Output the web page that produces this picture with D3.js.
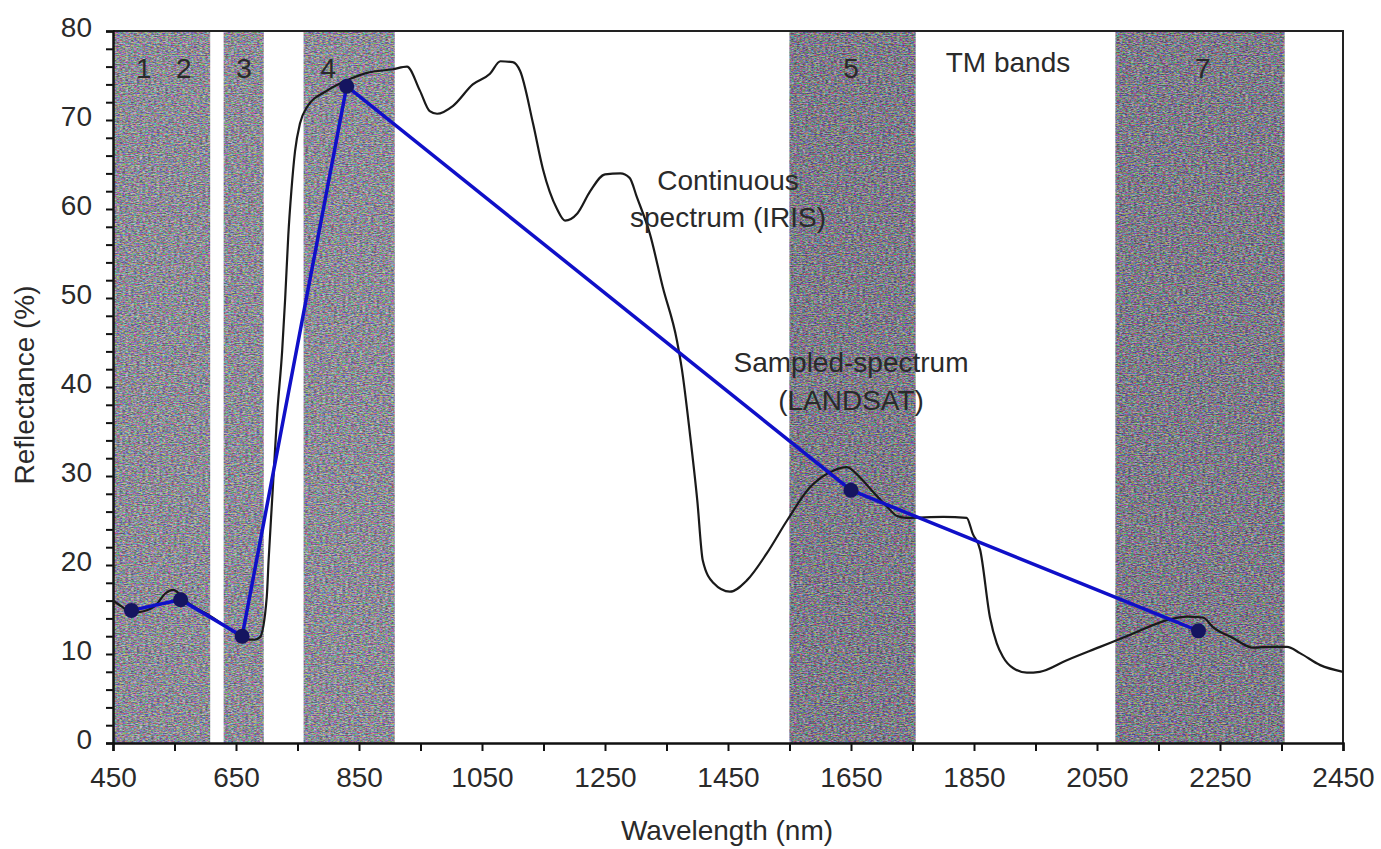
<!DOCTYPE html>
<html>
<head>
<meta charset="utf-8">
<script src="https://cdn.jsdelivr.net/npm/d3@7"></script>
<style>
  html, body { margin: 0; padding: 0; background: #fff; }
  svg { display: block; }
  text { font-family: "Liberation Sans", Arial, sans-serif; fill: #2a2a2a; }
</style>
</head>
<body>
<svg id="chart" width="1381" height="849"></svg>
<script>
// ---------- data ----------
const xTicks = [450, 650, 850, 1050, 1250, 1450, 1650, 1850, 2050, 2250, 2450];
const yTicks = [0, 10, 20, 30, 40, 50, 60, 70, 80];

// TM bands (nm)
const bandNames = ["1", "2", "3", "4", "5", "7"];
const bandStart = [450, 520, 630, 760, 1550, 2080];
const bandEnd   = [520, 608, 695, 908, 1755, 2355];
const bandLabelX = [500, 565, 663, 800, 1650, 2222];

// Continuous spectrum (IRIS)
const contWavelength = [450, 465, 480, 500, 520, 535, 548, 560, 575, 600, 625, 650, 665, 680, 689,
  700, 703, 709, 717, 725, 730, 735, 740, 746, 754, 765, 798, 835, 863, 905, 928, 949, 965, 977,
  1003, 1035, 1063, 1080, 1100, 1112, 1133, 1149, 1172, 1185, 1205, 1226, 1250, 1275, 1290,
  1302, 1323, 1344, 1367, 1375, 1388, 1400, 1409, 1426, 1453, 1481, 1513, 1546, 1583, 1621,
  1643, 1665, 1686, 1708, 1725, 1740, 1800, 1838, 1848, 1860, 1876, 1887, 1897, 1914, 1936,
  1957, 2001, 2055, 2109, 2164, 2196, 2222, 2239, 2271, 2304, 2326, 2359, 2380, 2413, 2450];
const contReflectance = [16.0, 15.3, 14.6, 14.8, 15.5, 16.8, 17.2, 16.6, 15.6, 14.6, 13.5, 12.3, 11.7, 11.6, 11.9,
  16.4, 20.5, 27.6, 37.0, 44.0, 50.0, 57.0, 62.0, 66.5, 69.6, 71.4, 73.3, 74.6, 75.3, 75.7, 76.0, 73.3, 71.0, 70.7,
  71.6, 74.0, 75.2, 76.6, 76.5, 75.5, 69.6, 64.5, 60.0, 58.7, 59.5, 62.0, 63.9, 64.0, 63.5,
  61.3, 57.2, 51.2, 45.2, 42.0, 34.8, 27.3, 20.5, 18.0, 17.0, 18.3, 21.3, 25.0, 28.7, 30.6,
  31.0, 29.8, 28.2, 26.6, 25.5, 25.3, 25.4, 25.3, 23.5, 21.7, 14.1, 11.2, 9.7, 8.4, 7.9,
  8.0, 9.3, 10.8, 12.3, 13.8, 14.2, 14.1, 13.0, 11.8, 10.7, 10.8, 10.8, 10.1, 8.75, 8.0];

// Sampled spectrum (LANDSAT)
const sampWavelength  = [480, 560, 660, 830, 1650, 2215];
const sampReflectance = [14.9, 16.1, 12.0, 73.8, 28.4, 12.6];

// ---------- layout ----------
const svg = d3.select("#chart");
const mLeft = 113, mRight = 1343, mTop = 31, mBottom = 743;
const FS = 28;

const x = d3.scaleLinear().domain([450, 2450]).range([mLeft, mRight]);
const y = d3.scaleLinear().domain([0, 80]).range([mBottom, mTop]);

// noise filter for the band shading (mimics the printed, dithered texture)
const defs = svg.append("defs");
const f = defs.append("filter").attr("id", "noise")
  .attr("x", 0).attr("y", 0).attr("width", 1).attr("height", 1)
  .attr("color-interpolation-filters", "sRGB");
f.append("feTurbulence").attr("type", "fractalNoise").attr("baseFrequency", "0.35 0.9")
  .attr("numOctaves", 2).attr("seed", 11).attr("result", "t");
f.append("feColorMatrix").attr("in", "t").attr("type", "matrix")
  .attr("values", "2.6 0 0 0 -0.8  0 2.6 0 0 -0.8  0 0 2.6 0 -0.8  0 0 0 0 0.42").attr("result", "n");
f.append("feComposite").attr("in", "n").attr("in2", "SourceGraphic").attr("operator", "in").attr("result", "nc");
const fm = f.append("feMerge");
fm.append("feMergeNode").attr("in", "SourceGraphic");
fm.append("feMergeNode").attr("in", "nc");

const darkBands = ["5", "7"];
svg.append("g").selectAll("rect")
  .data(bandNames.map((n, i) => ({ n, s: bandStart[i], e: bandEnd[i] })))
  .join("rect")
  .attr("x", d => x(d.s))
  .attr("y", y(80))
  .attr("width", d => x(d.e) - x(d.s))
  .attr("height", y(0) - y(80))
  .attr("fill", d => darkBands.includes(d.n) ? "#7c7990" : "#9795a8")
  .attr("filter", "url(#noise)");

// band labels
svg.append("g").selectAll("text")
  .data(bandNames.map((n, i) => ({ n, x: bandLabelX[i] })))
  .join("text")
  .attr("x", d => x(d.x))
  .attr("y", 78)
  .attr("text-anchor", "middle")
  .attr("font-size", FS)
  .text(d => d.n);

svg.append("text").attr("x", 1008).attr("y", 72).attr("text-anchor", "middle")
  .attr("font-size", FS).text("TM bands");

// frame (top & right)
svg.append("path")
  .attr("d", `M${mLeft},${mTop}H${mRight}V${mBottom}`)
  .attr("fill", "none").attr("stroke", "#222").attr("stroke-width", 2);

// axes
const xAxis = d3.axisBottom(x)
  .tickValues(d3.range(450, 2451, 100))
  .tickSize(8)
  .tickFormat(d => xTicks.includes(d) ? d : "");
const gx = svg.append("g").attr("transform", `translate(0,${mBottom})`).call(xAxis);
gx.select(".domain").attr("stroke", "#111").attr("stroke-width", 2.5);
gx.selectAll(".tick line").attr("stroke", "#111").attr("stroke-width", 2);
gx.selectAll(".tick text").attr("font-size", FS).attr("font-family", "Liberation Sans, Arial, sans-serif")
  .attr("fill", "#2a2a2a").attr("y", 24);

const yAxis = d3.axisLeft(y)
  .tickValues(d3.range(0, 81, 2))
  .tickSize(7)
  .tickFormat(d => yTicks.includes(d) ? d : "");
const gy = svg.append("g").attr("transform", `translate(${mLeft},0)`).call(yAxis);
gy.select(".domain").attr("stroke", "#111").attr("stroke-width", 2.5);
gy.selectAll(".tick line").attr("stroke", "#111").attr("stroke-width", 2);
gy.selectAll(".tick text").attr("font-size", FS).attr("font-family", "Liberation Sans, Arial, sans-serif")
  .attr("fill", "#2a2a2a").attr("x", -21).attr("dy", "0.2em");

// axis titles
svg.append("text").attr("x", 727).attr("y", 840).attr("text-anchor", "middle")
  .attr("font-size", FS).text("Wavelength (nm)");
svg.append("text").attr("transform", "translate(34,385) rotate(-90)")
  .attr("text-anchor", "middle").attr("font-size", FS).text("Reflectance (%)");

// continuous spectrum
const contData = contWavelength.map((w, i) => [w, contReflectance[i]]);
svg.append("path")
  .datum(contData)
  .attr("fill", "none")
  .attr("stroke", "#1a1a1a")
  .attr("stroke-width", 2.2)
  .attr("stroke-linejoin", "round")
  .attr("d", d3.line().x(d => x(d[0])).y(d => y(d[1])).curve(d3.curveMonotoneX));

// sampled spectrum
const sampData = sampWavelength.map((w, i) => [w, sampReflectance[i]]);
svg.append("path")
  .datum(sampData)
  .attr("fill", "none")
  .attr("stroke", "#1010c8")
  .attr("stroke-width", 3.5)
  .attr("d", d3.line().x(d => x(d[0])).y(d => y(d[1])));
svg.append("g").selectAll("circle")
  .data(sampData)
  .join("circle")
  .attr("cx", d => x(d[0]))
  .attr("cy", d => y(d[1]))
  .attr("r", 7.5)
  .attr("fill", "#151560");

// annotations
svg.append("text").attr("x", 728).attr("y", 190).attr("text-anchor", "middle")
  .attr("font-size", FS).text("Continuous");
svg.append("text").attr("x", 728).attr("y", 227).attr("text-anchor", "middle")
  .attr("font-size", FS).text("spectrum (IRIS)");
svg.append("text").attr("x", 851).attr("y", 372).attr("text-anchor", "middle")
  .attr("font-size", FS).text("Sampled-spectrum");
svg.append("text").attr("x", 851).attr("y", 410).attr("text-anchor", "middle")
  .attr("font-size", FS).text("(LANDSAT)");
</script>
</body>
</html>
